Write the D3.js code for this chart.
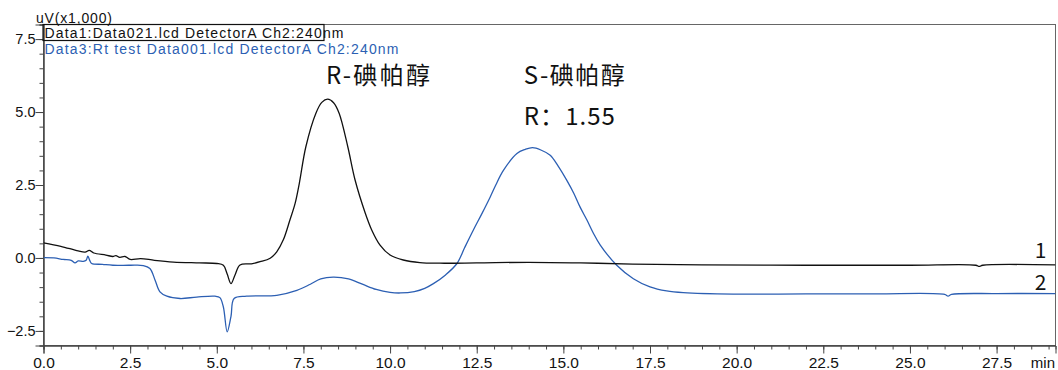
<!DOCTYPE html>
<html>
<head>
<meta charset="utf-8">
<script src="https://cdn.jsdelivr.net/npm/d3@7"></script>
<style>
  body { margin: 0; background: #fff; }
  svg { display: block; }
</style>
</head>
<body>
<div id="chart"></div>
<script>
// trace 1 (black) - Data1:Data021.lcd
const timeBlack = [0, 0.5, 1.0, 1.2, 1.32, 1.45, 1.8, 2.0, 2.09, 2.2, 2.35, 2.5, 2.8, 3.2, 3.75, 4.5, 5.0, 5.19, 5.3, 5.41, 5.52, 5.67, 6.0, 6.25, 6.54, 6.73, 6.92, 7.11, 7.26, 7.38, 7.57, 7.86, 8.03, 8.2, 8.37, 8.53, 8.78, 8.99, 9.28, 9.47, 9.71, 10.0, 10.38, 10.86, 11.44, 12.5, 14.0, 15.5, 17.0, 19.0, 22.0, 25.0, 26.9, 27.0, 27.1, 29.2];
const signalBlack = [0.52, 0.4, 0.24, 0.2, 0.26, 0.17, 0.1, 0.05, 0.08, 0.02, 0.05, -0.05, -0.02, -0.08, -0.14, -0.17, -0.19, -0.25, -0.55, -0.88, -0.6, -0.24, -0.2, -0.13, -0.01, 0.21, 0.62, 1.3, 1.87, 2.55, 3.81, 4.96, 5.33, 5.44, 5.32, 4.96, 3.81, 2.67, 1.55, 0.96, 0.44, 0.1, -0.07, -0.16, -0.18, -0.17, -0.15, -0.17, -0.21, -0.24, -0.25, -0.25, -0.25, -0.29, -0.25, -0.24];

// trace 2 (blue) - Data3:Rt test Data001.lcd
const timeBlue = [0, 0.3, 0.57, 0.8, 0.91, 1.0, 1.15, 1.23, 1.28, 1.34, 1.39, 1.7, 2.0, 2.5, 2.88, 3.07, 3.22, 3.36, 3.56, 3.94, 4.42, 4.95, 5.09, 5.19, 5.3, 5.41, 5.5, 5.86, 6.73, 7.31, 7.7, 8.0, 8.36, 8.8, 9.2, 9.6, 10.0, 10.3, 10.7, 11.0, 11.25, 11.6, 11.93, 12.15, 12.4, 12.65, 12.89, 13.05, 13.27, 13.66, 13.9, 14.11, 14.35, 14.62, 14.85, 15.1, 15.3, 15.48, 15.68, 15.87, 16.06, 16.54, 17.02, 17.5, 17.98, 18.46, 19.9, 22.0, 24.0, 26.0, 26.1, 26.2, 27.5, 29.2];
const signalBlue = [0.01, 0.0, -0.05, -0.08, -0.17, -0.1, -0.12, -0.08, 0.06, -0.1, -0.19, -0.22, -0.25, -0.25, -0.26, -0.36, -0.76, -1.16, -1.31, -1.39, -1.34, -1.31, -1.36, -1.68, -2.53, -2.0, -1.39, -1.31, -1.28, -1.11, -0.9, -0.72, -0.66, -0.72, -0.9, -1.08, -1.18, -1.2, -1.15, -1.04, -0.88, -0.58, -0.19, 0.35, 0.95, 1.52, 2.09, 2.5, 3.0, 3.58, 3.72, 3.78, 3.7, 3.52, 3.15, 2.66, 2.22, 1.75, 1.3, 0.84, 0.45, -0.25, -0.71, -0.99, -1.13, -1.19, -1.24, -1.23, -1.23, -1.25, -1.31, -1.25, -1.22, -1.22];

const xTicks = [0, 2.5, 5, 7.5, 10, 12.5, 15, 17.5, 20, 22.5, 25, 27.5];
const yTicks = [-2.5, 0, 2.5, 5, 7.5];

(function () {
  const margin = { top: 24.5, right: 2.5, bottom: 24.5, left: 43.5 };
  const width = 1058 - margin.left - margin.right;
  const height = 370 - margin.top - margin.bottom;

  const svg = d3
    .select("#chart")
    .append("svg")
    .attr("width", 1058)
    .attr("height", 370)
    .append("g")
    .attr("transform", "translate(" + margin.left + "," + margin.top + ")");

  const xPositionScale = d3.scaleLinear().domain([0, 29.2]).range([0, width]);
  const yPositionScale = d3.scaleLinear().domain([-3, 8]).range([height, 0]);

  const axisColor = "#444";
  const blue = "#2c5fb3";
  const latin = "'Liberation Sans', Arial, sans-serif";
  const cjk = "'Noto Sans CJK SC', 'Noto Sans', sans-serif";

  // frame
  svg.append("rect")
    .attr("x", 0).attr("y", 0)
    .attr("width", width).attr("height", height)
    .attr("fill", "none")
    .attr("stroke", "#666");

  // x axis: minor then major ticks
  svg.append("g")
    .attr("transform", "translate(0," + height + ")")
    .call(d3.axisBottom(xPositionScale)
      .tickValues(d3.range(0, 29.01, 0.5))
      .tickSize(4)
      .tickFormat(""));
  const xMajor = svg.append("g")
    .attr("transform", "translate(0," + height + ")")
    .call(d3.axisBottom(xPositionScale)
      .tickValues(xTicks)
      .tickSize(8)
      .tickPadding(3)
      .tickFormat(d3.format(".1f")));
  xMajor.selectAll("text")
    .attr("font-family", latin)
    .attr("font-size", "15.5px")
    .attr("fill", "#111");

  // y axis
  svg.append("g")
    .call(d3.axisLeft(yPositionScale)
      .tickValues(d3.range(-3, 8.01, 0.5))
      .tickSize(4)
      .tickFormat(""));
  const yMajor = svg.append("g")
    .call(d3.axisLeft(yPositionScale)
      .tickValues(yTicks)
      .tickSize(8)
      .tickPadding(0)
      .tickFormat(d3.format(".1f")));
  yMajor.selectAll("text")
    .attr("font-family", latin)
    .attr("font-size", "14.5px")
    .attr("fill", "#111");

  svg.selectAll(".domain, .tick line").attr("stroke", axisColor);

  svg.append("text")
    .attr("x", width - 0.5)
    .attr("y", height + 22.5)
    .attr("text-anchor", "end")
    .attr("font-family", latin)
    .attr("font-size", "15px")
    .attr("fill", "#111")
    .text("min");

  svg.append("text")
    .attr("x", -7.5)
    .attr("y", -2)
    .attr("font-family", latin)
    .attr("font-size", "14px")
    .attr("textLength", 76)
    .attr("lengthAdjust", "spacing")
    .attr("fill", "#111")
    .text("uV(x1,000)");

  // traces
  const line = d3.line()
    .x(d => xPositionScale(d[0]))
    .y(d => yPositionScale(d[1]))
    .curve(d3.curveCatmullRom.alpha(0.5));

  svg.append("clipPath").attr("id", "plot-clip")
    .append("rect").attr("width", width).attr("height", height);

  svg.append("path")
    .datum(d3.zip(timeBlue, signalBlue))
    .attr("d", line)
    .attr("clip-path", "url(#plot-clip)")
    .attr("fill", "none")
    .attr("stroke", blue)
    .attr("stroke-width", 1.3);

  svg.append("path")
    .datum(d3.zip(timeBlack, signalBlack))
    .attr("d", line)
    .attr("clip-path", "url(#plot-clip)")
    .attr("fill", "none")
    .attr("stroke", "#111")
    .attr("stroke-width", 1.3);

  // legend lines
  svg.append("rect")
    .attr("x", -0.5).attr("y", 0)
    .attr("width", 281).attr("height", 16)
    .attr("fill", "none")
    .attr("stroke", "#111")
    .attr("stroke-width", 1.2);
  svg.append("text")
    .attr("x", 1)
    .attr("y", 13.8)
    .attr("font-family", latin)
    .attr("font-size", "14px")
    .attr("textLength", 299)
    .attr("lengthAdjust", "spacing")
    .attr("fill", "#111")
    .text("Data1:Data021.lcd DetectorA Ch2:240nm");
  svg.append("text")
    .attr("x", 1)
    .attr("y", 29)
    .attr("font-family", latin)
    .attr("font-size", "14px")
    .attr("textLength", 354)
    .attr("lengthAdjust", "spacing")
    .attr("fill", blue)
    .text("Data3:Rt test Data001.lcd DetectorA Ch2:240nm");

  // peak annotations
  svg.append("text")
    .attr("x", xPositionScale(8.15))
    .attr("y", yPositionScale(5.96))
    .attr("font-family", cjk)
    .attr("font-size", "24px")
    .attr("textLength", 104)
    .attr("lengthAdjust", "spacing")
    .attr("fill", "#111")
    .text("R-碘帕醇");
  svg.append("text")
    .attr("x", xPositionScale(13.86))
    .attr("y", yPositionScale(5.96))
    .attr("font-family", cjk)
    .attr("font-size", "24px")
    .attr("textLength", 101)
    .attr("lengthAdjust", "spacing")
    .attr("fill", "#111")
    .text("S-碘帕醇");
  svg.append("text")
    .attr("x", xPositionScale(13.86))
    .attr("y", yPositionScale(4.56))
    .attr("font-family", cjk)
    .attr("font-size", "24px")
    .attr("textLength", 91)
    .attr("lengthAdjust", "spacing")
    .attr("fill", "#111")
    .text("R：1.55");

  // trace numbers
  svg.append("text")
    .attr("x", xPositionScale(28.94))
    .attr("y", yPositionScale(0.01))
    .attr("text-anchor", "end")
    .attr("font-family", cjk)
    .attr("font-size", "21px")
    .attr("fill", "#111")
    .text("1");
  svg.append("text")
    .attr("x", xPositionScale(28.94))
    .attr("y", yPositionScale(-1.1))
    .attr("text-anchor", "end")
    .attr("font-family", cjk)
    .attr("font-size", "21px")
    .attr("fill", "#111")
    .text("2");
})();
</script>
</body>
</html>
